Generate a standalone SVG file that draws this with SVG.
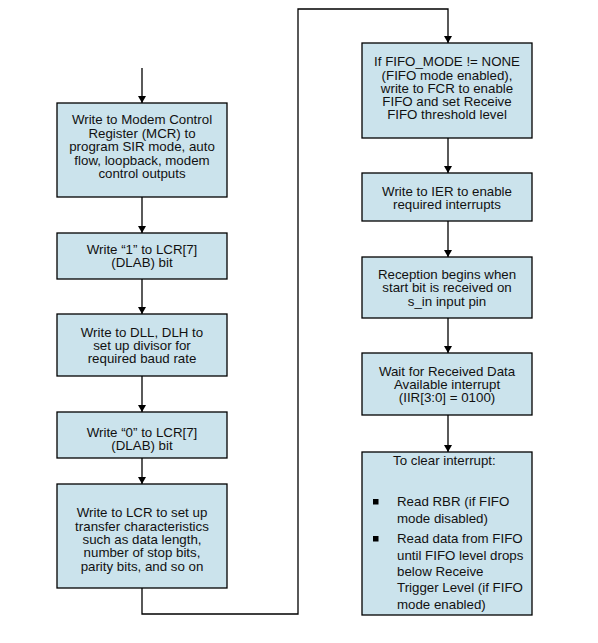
<svg xmlns="http://www.w3.org/2000/svg" width="598" height="643" viewBox="0 0 598 643">
  <defs>
    <marker id="arrow" markerWidth="8" markerHeight="8" refX="7" refY="4" orient="auto" markerUnits="userSpaceOnUse">
      <path d="M0,0 L7,4 L0,8 Z" fill="#000"/>
    </marker>
  </defs>
  <style>
    .box { fill: #cbe3ec; stroke: #000; stroke-width: 1.3; }
    .lbl { font-family: "Liberation Sans", Arial, sans-serif; font-size: 12px; fill: #111; text-anchor: middle; }
    .lft { text-anchor: start; }
    .wire { fill: none; stroke: #000; stroke-width: 1.3; }
  </style>
  <rect width="598" height="643" fill="#fff"/>

  <g id="connectors">
    <path class="wire" d="M142,68 V103" marker-end="url(#arrow)"/>
    <path class="wire" d="M142,197 V233" marker-end="url(#arrow)"/>
    <path class="wire" d="M142,279 V314" marker-end="url(#arrow)"/>
    <path class="wire" d="M142,376 V412" marker-end="url(#arrow)"/>
    <path class="wire" d="M142,458 V484" marker-end="url(#arrow)"/>
    <path class="wire" d="M142,588 V614 H298 V9 H448 V43" marker-end="url(#arrow)"/>
    <path class="wire" d="M448,138 V173" marker-end="url(#arrow)"/>
    <path class="wire" d="M448,221 V257" marker-end="url(#arrow)"/>
    <path class="wire" d="M448,318 V353" marker-end="url(#arrow)"/>
    <path class="wire" d="M448,415 V452" marker-end="url(#arrow)"/>
  </g>

  <g id="mcr">
    <rect class="box" x="57" y="103" width="170" height="94"/>
    <g transform="translate(142 0) scale(1.11 1)">
      <text class="lbl" x="0" y="124.5">Write to Modem Control</text>
      <text class="lbl" x="0" y="138">Register (MCR) to</text>
      <text class="lbl" x="0" y="151.5">program SIR mode, auto</text>
      <text class="lbl" x="0" y="165">flow, loopback, modem</text>
      <text class="lbl" x="0" y="178.5">control outputs</text>
    </g>
  </g>

  <g id="dlab-set">
    <rect class="box" x="57" y="233" width="170" height="46"/>
    <g transform="translate(142 0) scale(1.11 1)">
      <text class="lbl" x="0" y="254">Write “1” to LCR[7]</text>
      <text class="lbl" x="0" y="267">(DLAB) bit</text>
    </g>
  </g>

  <g id="divisor">
    <rect class="box" x="57" y="314" width="170" height="62"/>
    <g transform="translate(142 0) scale(1.11 1)">
      <text class="lbl" x="0" y="337">Write to DLL, DLH to</text>
      <text class="lbl" x="0" y="350">set up divisor for</text>
      <text class="lbl" x="0" y="363">required baud rate</text>
    </g>
  </g>

  <g id="dlab-clear">
    <rect class="box" x="57" y="412" width="170" height="46"/>
    <g transform="translate(142 0) scale(1.11 1)">
      <text class="lbl" x="0" y="437">Write “0” to LCR[7]</text>
      <text class="lbl" x="0" y="450">(DLAB) bit</text>
    </g>
  </g>

  <g id="lcr">
    <rect class="box" x="57" y="484" width="170" height="104"/>
    <g transform="translate(142 0) scale(1.11 1)">
      <text class="lbl" x="0" y="517">Write to LCR to set up</text>
      <text class="lbl" x="0" y="531">transfer characteristics</text>
      <text class="lbl" x="0" y="544">such as data length,</text>
      <text class="lbl" x="0" y="557">number of stop bits,</text>
      <text class="lbl" x="0" y="571">parity bits, and so on</text>
    </g>
  </g>

  <g id="fcr">
    <rect class="box" x="362" y="43" width="170" height="95"/>
    <g transform="translate(447 0) scale(1.11 1)">
      <text class="lbl" x="0" y="66">If FIFO_MODE != NONE</text>
      <text class="lbl" x="0" y="80">(FIFO mode enabled),</text>
      <text class="lbl" x="0" y="93">write to FCR to enable</text>
      <text class="lbl" x="0" y="106">FIFO and set Receive</text>
      <text class="lbl" x="0" y="119">FIFO threshold level</text>
    </g>
  </g>

  <g id="ier">
    <rect class="box" x="362" y="173" width="170" height="48"/>
    <g transform="translate(447 0) scale(1.11 1)">
      <text class="lbl" x="0" y="196">Write to IER to enable</text>
      <text class="lbl" x="0" y="209">required interrupts</text>
    </g>
  </g>

  <g id="reception">
    <rect class="box" x="362" y="257" width="170" height="61"/>
    <g transform="translate(447 0) scale(1.11 1)">
      <text class="lbl" x="0" y="279">Reception begins when</text>
      <text class="lbl" x="0" y="292">start bit is received on</text>
      <text class="lbl" x="0" y="306">s_in input pin</text>
    </g>
  </g>

  <g id="wait">
    <rect class="box" x="362" y="353" width="170" height="62"/>
    <g transform="translate(447 0) scale(1.11 1)">
      <text class="lbl" x="0" y="376">Wait for Received Data</text>
      <text class="lbl" x="0" y="389">Available interrupt</text>
      <text class="lbl" x="0" y="402">(IIR[3:0] = 0100)</text>
    </g>
  </g>

  <g id="clear">
    <rect class="box" x="362" y="452" width="170" height="163"/>
    <rect x="373" y="499" width="5.5" height="5.5" fill="#000"/>
    <rect x="373" y="536" width="5.5" height="5.5" fill="#000"/>
    <g transform="translate(397 0) scale(1.11 1)">
      <text class="lbl lft" x="-3.6" y="465">To clear interrupt:</text>
      <text class="lbl lft" x="0" y="506">Read RBR (if FIFO</text>
      <text class="lbl lft" x="0" y="523">mode disabled)</text>
      <text class="lbl lft" x="0" y="543">Read data from FIFO</text>
      <text class="lbl lft" x="0" y="560">until FIFO level drops</text>
      <text class="lbl lft" x="0" y="576">below Receive</text>
      <text class="lbl lft" x="0" y="592">Trigger Level (if FIFO</text>
      <text class="lbl lft" x="0" y="609">mode enabled)</text>
    </g>
  </g>
</svg>
